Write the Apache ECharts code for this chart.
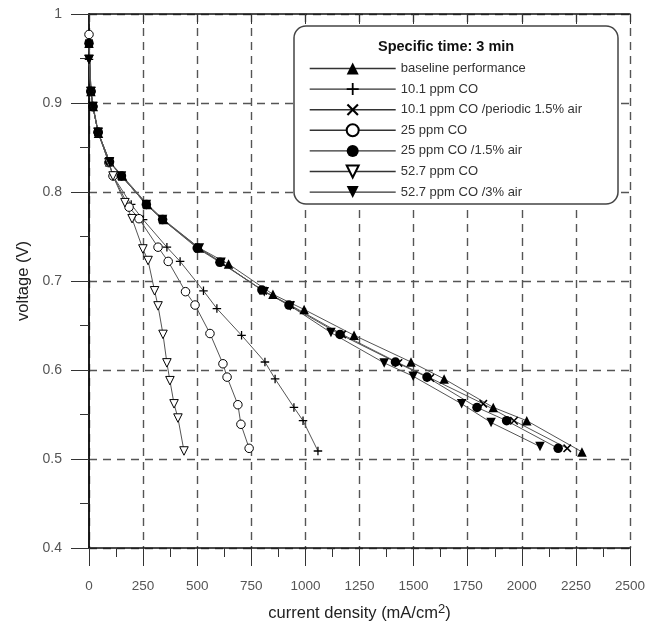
<!DOCTYPE html>
<html>
<head>
<meta charset="utf-8">
<script src="https://cdn.jsdelivr.net/npm/echarts@6/dist/echarts.min.js"></script>
<style>html,body{margin:0;padding:0;background:#fff;}#c{width:656px;height:627px;}</style>
</head>
<body>
<div id="c"></div>
<script>
// ---- data: [current density (mA/cm2), voltage (V)] ----
const xTicks = [0, 250, 500, 750, 1000, 1250, 1500, 1750, 2000, 2250, 2500];
const yTicks = [0.4, 0.5, 0.6, 0.7, 0.8, 0.9, 1];

const seriesNames = [
  'baseline performance',
  '10.1 ppm CO',
  '10.1 ppm CO /periodic 1.5% air',
  '25 ppm CO',
  '25 ppm CO /1.5% air',
  '52.7 ppm CO',
  '52.7 ppm CO /3% air'
];

const baseline = [[0,0.967],[9,0.913],[20,0.896],[44,0.866],[95,0.834],[155,0.818],[270,0.786],[345,0.769],[510,0.737],[645,0.719],[850,0.685],[994,0.668],[1225,0.639],[1488,0.609],[1641,0.590],[1868,0.558],[2023,0.543],[2278,0.508]];
const co10 = [[0,0.949],[9,0.913],[18,0.896],[42,0.867],[92,0.833],[111,0.818],[195,0.786],[250,0.769],[360,0.738],[421,0.722],[529,0.689],[591,0.669],[705,0.639],[813,0.609],[860,0.590],[947,0.558],[989,0.543],[1058,0.509]];
const co10air = [[0,0.967],[9,0.913],[18,0.896],[42,0.867],[95,0.834],[150,0.818],[265,0.786],[340,0.769],[505,0.737],[610,0.721],[805,0.689],[930,0.673],[1170,0.640],[1430,0.608],[1577,0.591],[1822,0.562],[1964,0.543],[2210,0.512]];
const co25 = [[0,0.977],[9,0.913],[18,0.896],[42,0.867],[92,0.833],[111,0.818],[185,0.783],[231,0.770],[319,0.738],[366,0.722],[446,0.688],[490,0.673],[559,0.641],[619,0.607],[638,0.592],[688,0.561],[702,0.539],[740,0.512]];
const co25air = [[0,0.967],[9,0.913],[18,0.896],[42,0.867],[95,0.834],[150,0.818],[265,0.786],[340,0.769],[500,0.737],[605,0.721],[799,0.690],[924,0.673],[1160,0.640],[1416,0.609],[1562,0.592],[1793,0.558],[1930,0.543],[2168,0.512]];
const co52 = [[0,0.949],[9,0.913],[18,0.896],[42,0.867],[92,0.833],[111,0.818],[166,0.788],[199,0.770],[249,0.736],[273,0.723],[303,0.689],[319,0.672],[342,0.640],[360,0.608],[374,0.588],[393,0.562],[411,0.546],[439,0.509]];
const co52air = [[0,0.949],[9,0.913],[18,0.896],[42,0.867],[95,0.834],[150,0.818],[265,0.786],[340,0.769],[510,0.737],[610,0.721],[810,0.688],[930,0.672],[1118,0.642],[1364,0.608],[1498,0.593],[1722,0.562],[1858,0.541],[2084,0.514]];

const allData = [baseline, co10, co10air, co25, co25air, co52, co52air];

// ---- symbols ----
const PLUS = 'path://M8.5,0h3v8.5h8.5v3h-8.5v8.5h-3v-8.5h-8.5v-3h8.5z';
const CROSS = 'path://M2.5,0L10,7.5L17.5,0L20,2.5L12.5,10L20,17.5L17.5,20L10,12.5L2.5,20L0,17.5L7.5,10L0,2.5z';
const DOWNTRI = 'path://M0,0L20,0L10,17.3z';
const symbols = ['triangle', PLUS, CROSS, 'circle', 'circle', DOWNTRI, DOWNTRI];
const sizes = [9.5, 8.5, 8.5, 8.5, 9.5, 8.5, 9.5];
const filled = [true, true, true, false, true, false, true];

const chart = echarts.init(document.getElementById('c'));
const FONT = 'Liberation Sans, Arial, sans-serif';
const gridDash = { color: '#555', width: 1.4, type: [8, 6] };

const series = seriesNames.map((name, i) => ({
  name: name,
  type: 'line',
  data: allData[i],
  symbol: symbols[i],
  symbolSize: sizes[i],
  showAllSymbol: true,
  lineStyle: { color: '#555', width: 1 },
  itemStyle: filled[i]
    ? { color: '#000', borderColor: '#000', borderWidth: 0 }
    : { color: '#fff', borderColor: '#000', borderWidth: 1 },
  emphasis: { disabled: true },
  z: 2
}));

chart.setOption({
  animation: false,
  backgroundColor: '#fff',
  grid: { left: 89, top: 14, width: 541, height: 540, containLabel: false },
  title: {
    text: 'Specific time: 3 min',
    left: 373, top: 34,
    textStyle: { fontFamily: FONT, fontSize: 14.5, fontWeight: 'bold', color: '#111' },
    z: 10
  },
  legend: {
    orient: 'vertical',
    left: 304, top: 56,
    itemWidth: 86, itemHeight: 15, itemGap: 5.6,
    data: seriesNames,
    textStyle: { fontFamily: FONT, fontSize: 13, lineHeight: 15, color: '#333', padding: [0, 0, 0, 0] },
    lineStyle: { color: '#333', width: 1.4 },
    selectedMode: false,
    z: 10
  },
  graphic: [{
    type: 'rect',
    shape: { x: 294, y: 26, width: 324, height: 178, r: 12 },
    style: { fill: '#fff', stroke: '#444', lineWidth: 1.5 },
    z: 5
  }],
  xAxis: [{
    type: 'value', position: 'bottom',
    min: xTicks[0], max: xTicks[xTicks.length - 1], interval: 250,
    name: 'current density (mA/cm{sup|2})',
    nameLocation: 'middle', nameGap: 55,
    nameTextStyle: {
      fontFamily: FONT, fontSize: 16.5, color: '#222',
      rich: { sup: { fontFamily: FONT, fontSize: 13, color: '#222', verticalAlign: 'top', padding: [0, 0, 8, 0] } }
    },
    axisLine: { show: true, lineStyle: { color: '#111', width: 1.5 } },
    axisTick: { show: true, inside: false, length: 18, lineStyle: { color: '#333', width: 1 } },
    minorTick: { show: true, splitNumber: 2, length: 9, lineStyle: { color: '#333', width: 1 } },
    axisLabel: { fontFamily: FONT, fontSize: 13.5, color: '#555', margin: 31,
      formatter: v => String(v) },
    splitLine: { show: true, lineStyle: gridDash }
  }, {
    type: 'value', position: 'top',
    min: xTicks[0], max: xTicks[xTicks.length - 1], interval: 250,
    axisLine: { show: true, lineStyle: { color: '#111', width: 1.5 } },
    axisTick: { show: true, inside: true, length: 10, lineStyle: { color: '#333', width: 1 } },
    axisLabel: { show: false },
    splitLine: { show: false }
  }],
  yAxis: [{
    type: 'value', position: 'left',
    min: yTicks[0], max: yTicks[yTicks.length - 1], interval: 0.1,
    name: 'voltage (V)',
    nameLocation: 'middle', nameGap: 56, nameRotate: 90,
    nameTextStyle: { fontFamily: FONT, fontSize: 16.5, color: '#222' },
    axisLine: { show: true, lineStyle: { color: '#111', width: 1.5 } },
    axisTick: { show: true, inside: false, length: 18, lineStyle: { color: '#333', width: 1 } },
    minorTick: { show: true, splitNumber: 2, length: 9, lineStyle: { color: '#333', width: 1 } },
    axisLabel: { fontFamily: FONT, fontSize: 14, color: '#555', margin: 27,
      formatter: v => (Math.round(v * 10) / 10).toString() },
    splitLine: { show: true, lineStyle: gridDash }
  }, {
    type: 'value', position: 'right',
    min: yTicks[0], max: yTicks[yTicks.length - 1], interval: 0.1,
    axisLine: { show: true, lineStyle: { color: '#111', width: 1.5 } },
    axisTick: { show: false },
    axisLabel: { show: false },
    splitLine: { show: false }
  }],
  series: series
});
</script>
</body>
</html>
